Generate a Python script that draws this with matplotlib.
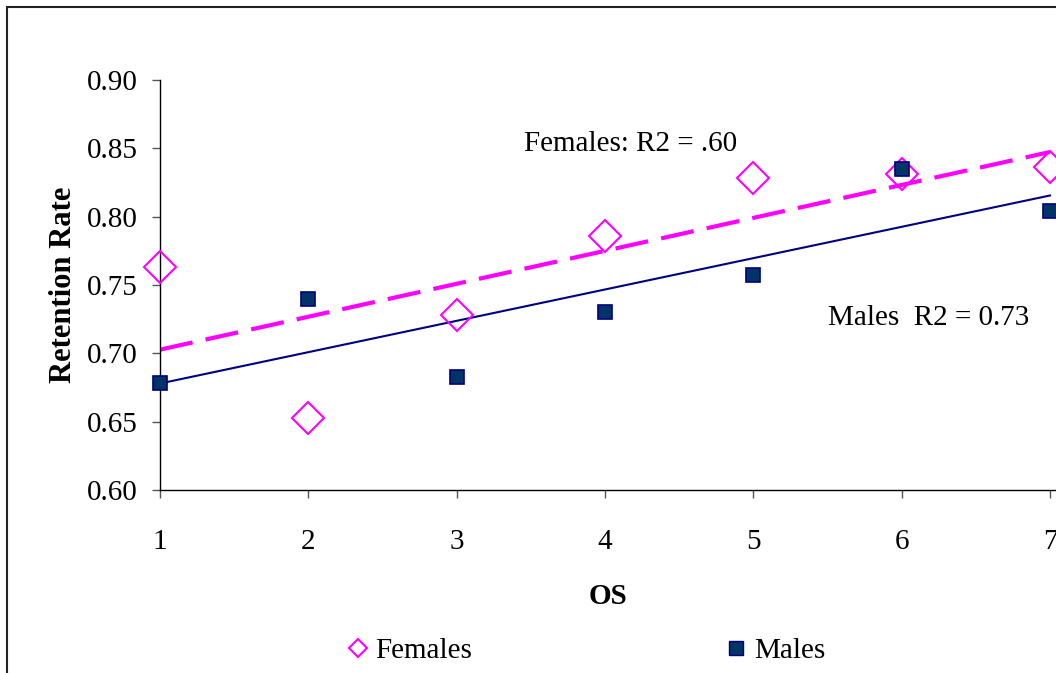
import numpy as np
import matplotlib
matplotlib.use('Agg')
from matplotlib import pyplot as plt
from matplotlib.lines import Line2D
from matplotlib.patches import Rectangle

plt.rcParams['font.family'] = ['Liberation Serif', 'DejaVu Serif']

os_level = np.array([1, 2, 3, 4, 5, 6, 7])
females = np.array([0.763, 0.653, 0.728, 0.786, 0.828, 0.831, 0.836])
males = np.array([0.678, 0.740, 0.683, 0.730, 0.757, 0.835, 0.804])
y_ticks = [0.60, 0.65, 0.70, 0.75, 0.80, 0.85, 0.90]

pink = '#FF00FF'
navy = '#000080'
square_fill = '#003366'

fig = plt.figure(figsize=(10.56, 6.73), dpi=100)
ax = fig.add_axes([160 / 1056, (673 - 490) / 673, 896 / 1056, 410 / 673])

# linear trendlines fitted to each series
xs = np.array([os_level.min(), os_level.max()])
fit_f = np.polyfit(os_level, females, 1)
fit_m = np.polyfit(os_level, males, 1)
ax.plot(xs, np.polyval(fit_f, xs), color=pink, lw=3, ls=(0, (8, 3.2)), zorder=2)
ax.plot(xs, np.polyval(fit_m, xs), color=navy, lw=1.5, zorder=2)

ax.plot(os_level, females, ls='none', marker='D', ms=16.5, mfc='none',
        mec=pink, mew=1.5, zorder=3, clip_on=False)
ax.plot(os_level, males, ls='none', marker='s', ms=10.5, mfc=square_fill,
        mec=navy, mew=1.2, zorder=4, clip_on=False)

ax.set_xlim(1, 7 + 6 / 890 * 6)
ax.set_ylim(0.60, 0.90)
ax.set_xticks(os_level)
ax.set_yticks(y_ticks)
ax.set_yticklabels([f'{v:.2f}' for v in y_ticks])
ax.tick_params(axis='both', direction='out', length=6, width=1, color='#555555',
               labelsize=21, pad=10)
ax.tick_params(axis='x', pad=22)

for side in ['top', 'right']:
    ax.spines[side].set_visible(False)
for side in ['left', 'bottom']:
    ax.spines[side].set_color('black')
    ax.spines[side].set_linewidth(1)

ax.set_xlabel('OS', fontsize=21, fontweight='bold', labelpad=20)
ax.set_ylabel('Retention Rate', fontsize=22, fontweight='bold', labelpad=6)

ax.text(4.17, 0.853, 'Females: R2 = .60', fontsize=21, ha='center', va='center')
ax.text(5.50, 0.726, 'Males  R2 = 0.73', fontsize=21, ha='left', va='center')

handles = [
    Line2D([], [], ls='none', marker='D', ms=9, mfc='none', mec=pink, mew=1.5),
    Line2D([], [], ls='none', marker='s', ms=10, mfc=square_fill, mec=navy, mew=1),
]
fig.legend(handles, ['Females', 'Males'], loc='center', bbox_to_anchor=(0.554, 1 - 651 / 673),
           ncol=2, frameon=False, fontsize=21, handlelength=0.9, handletextpad=0.15,
           columnspacing=8.6)

# chart area border, cut off at the right and bottom like the source
fig.patches.append(Rectangle((7 / 1056, -0.1), 1.2, 1 - 7 / 673 + 0.1,
                             transform=fig.transFigure, fill=False,
                             edgecolor='#222222', lw=1.5))

fig.savefig('out.png', dpi=100)
